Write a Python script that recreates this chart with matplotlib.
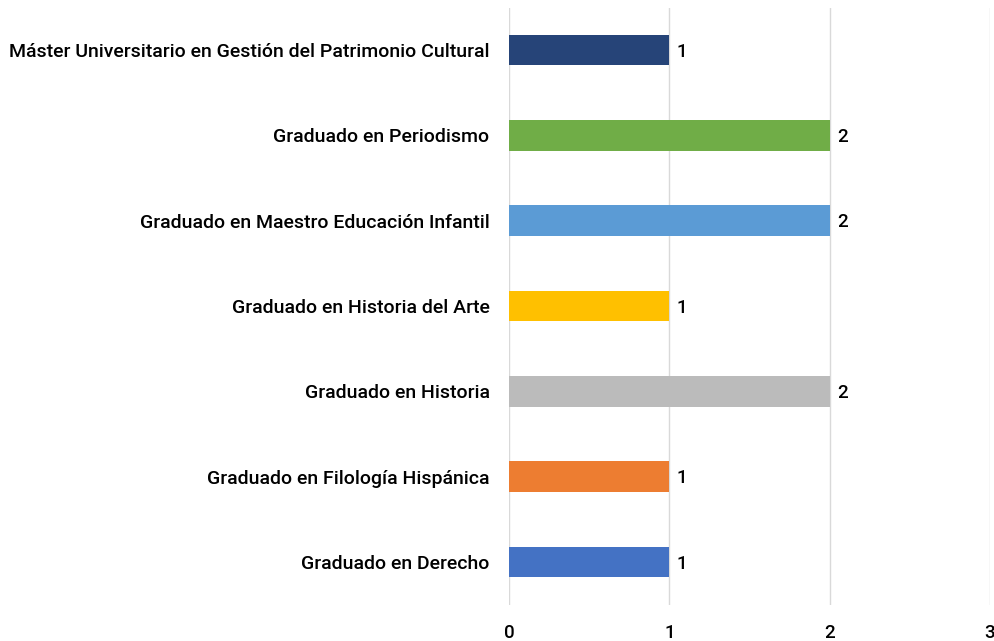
import matplotlib
matplotlib.use("Agg")
import matplotlib.pyplot as plt

categories = [
    "Graduado en Derecho",
    "Graduado en Filología Hispánica",
    "Graduado en Historia",
    "Graduado en Historia del Arte",
    "Graduado en Maestro Educación Infantil",
    "Graduado en Periodismo",
    "Máster Universitario en Gestión del Patrimonio Cultural",
]
values = [1, 1, 2, 1, 2, 2, 1]
colors = ["#4472C4", "#ED7D31", "#BBBBBB", "#FFC000", "#5B9BD5", "#70AD47", "#264478"]
xticks = [0, 1, 2, 3]

plt.rcParams['font.family'] = ['Roboto', 'DejaVu Sans']

fig = plt.figure(figsize=(9.95, 6.41), dpi=100)
ax = fig.add_axes([509/995, 36.5/641, 481/995, 597/641])

y = list(range(len(categories)))
ax.barh(y, values, height=0.36, color=colors, zorder=3)
for yi, v in zip(y, values):
    ax.text(v + 0.045, yi - 0.02, str(v), va='center', ha='left', fontsize=13.5,
            fontweight='medium', color='#000000')

ax.set_xlim(0, 3)
ax.set_ylim(-0.5, len(categories) - 0.5)
ax.set_xticks(xticks)
ax.set_xticklabels([str(t) for t in xticks], fontsize=13.5, fontweight='medium')
ax.set_yticks(y)
ax.set_yticklabels(categories, fontsize=14, fontweight='medium')
ax.tick_params(axis='both', length=0)
ax.tick_params(axis='x', pad=14)
ax.tick_params(axis='y', pad=14)
ax.grid(axis='x', color='#D9D9D9', linewidth=1, zorder=0)
for s in ax.spines.values():
    s.set_visible(False)

fig.savefig("out.png", dpi=100)
